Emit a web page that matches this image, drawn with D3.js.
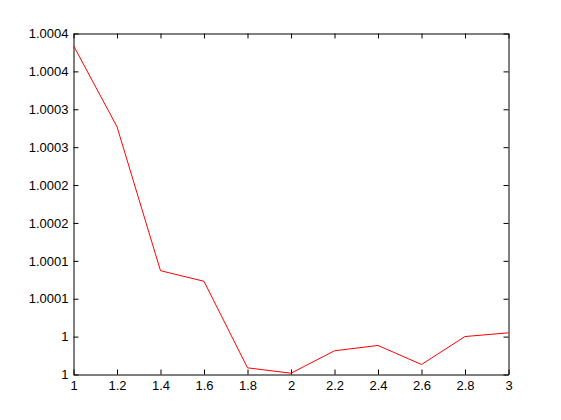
<!DOCTYPE html>
<html>
<head>
<meta charset="utf-8">
<script src="https://cdn.jsdelivr.net/npm/d3@7"></script>
<style>
  body { margin: 0; background: #fff; }
  svg { display: block; }
  text { font-family: "Liberation Sans", Arial, sans-serif; font-size: 13px; fill: #000; }
</style>
</head>
<body>
<svg id="chart" width="561" height="420"></svg>
<script>
// data
const xs = [1, 1.2, 1.4, 1.6, 1.8, 2, 2.2, 2.4, 2.6, 2.8, 3];
const ys = [1.000434, 1.000327, 1.000137, 1.000123, 1.0000088, 1.0000017,
            1.0000313, 1.0000383, 1.0000132, 1.0000501, 1.000055];
const xTicks = [1, 1.2, 1.4, 1.6, 1.8, 2, 2.2, 2.4, 2.6, 2.8, 3];
const xTickLabels = ["1", "1.2", "1.4", "1.6", "1.8", "2", "2.2", "2.4", "2.6", "2.8", "3"];
const yTicks = [1, 1.00005, 1.0001, 1.00015, 1.0002, 1.00025, 1.0003, 1.00035, 1.0004, 1.00045];
const yTickLabels = ["1", "1", "1.0001", "1.0001", "1.0002", "1.0002", "1.0003", "1.0003", "1.0004", "1.0004"];

const svg = d3.select('#chart');
const mLeft = 73.5, mRight = 508.5, mTop = 33.5, mBottom = 374.5;

const x = d3.scaleLinear().domain([1, 3]).range([mLeft, mRight]);
const y = d3.scaleLinear().domain([1, 1.00045]).range([mBottom, mTop]);

const tl = 5;
// bottom axis (ticks inward)
svg.append('g')
  .attr('transform', `translate(0,${mBottom})`)
  .call(d3.axisBottom(x).tickValues(xTicks)
    .tickFormat((d, i) => xTickLabels[i])
    .tickSizeInner(-tl).tickSizeOuter(0).tickPadding(6));
// top axis
svg.append('g')
  .attr('transform', `translate(0,${mTop})`)
  .call(d3.axisTop(x).tickValues(xTicks).tickFormat('')
    .tickSizeInner(-tl).tickSizeOuter(0));
// left axis
svg.append('g')
  .attr('transform', `translate(${mLeft},0)`)
  .call(d3.axisLeft(y).tickValues(yTicks)
    .tickFormat((d, i) => yTickLabels[i])
    .tickSizeInner(-tl).tickSizeOuter(0).tickPadding(5));
// right axis
svg.append('g')
  .attr('transform', `translate(${mRight},0)`)
  .call(d3.axisRight(y).tickValues(yTicks).tickFormat('')
    .tickSizeInner(-tl).tickSizeOuter(0));

svg.selectAll('.domain').attr('stroke', '#000');
svg.selectAll('.tick line').attr('stroke', '#000');
svg.selectAll('.tick text').style('font-family', '"Liberation Sans", Arial, sans-serif').style('font-size', '13px');

const line = d3.line()
  .x((d, i) => x(xs[i]))
  .y(d => y(d));

svg.append('path')
  .datum(ys)
  .attr('d', line)
  .attr('fill', 'none')
  .attr('stroke', '#ff0000')
  .attr('stroke-width', 1);
</script>
</body>
</html>
